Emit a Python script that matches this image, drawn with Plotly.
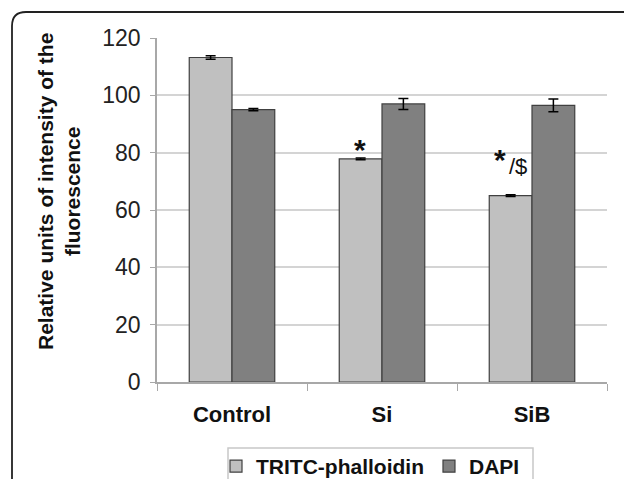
import plotly.graph_objects as go

categories = ["Control", "Si", "SiB"]
tritc = [113.2, 77.8, 65.0]
tritc_err = [0.6, 0.3, 0.3]
dapi = [95.0, 97.0, 96.5]
dapi_err = [0.4, 1.9, 2.2]
y_ticks = [0, 20, 40, 60, 80, 100, 120]

L, R, T, B = 157, 17, 38, 97
W, H = 624, 479
pw, ph = W - L - R, H - T - B

def px(x):
    return (x - L) / pw

def py(y):
    return (H - B - y) / ph

fig = go.Figure()
fig.add_trace(go.Bar(
    name="TRITC-phalloidin", x=categories, y=tritc,
    marker=dict(color="#c0c0c0", line=dict(color="#404040", width=1.2)),
    error_y=dict(type="data", array=tritc_err, color="#000000", thickness=1.5, width=5),
))
fig.add_trace(go.Bar(
    name="DAPI", x=categories, y=dapi,
    marker=dict(color="#808080", line=dict(color="#404040", width=1.2)),
    error_y=dict(type="data", array=dapi_err, color="#000000", thickness=1.5, width=5),
))

fig.update_layout(
    width=W, height=H,
    margin=dict(l=L, r=R, t=T, b=B, autoexpand=False),
    paper_bgcolor="white", plot_bgcolor="white",
    barmode="group", bargap=0.43, bargroupgap=0,
    font=dict(family="Liberation Sans, Arial", color="#111111"),
    showlegend=True,
    legend=dict(
        orientation="h", xref="container", yref="container",
        x=216 / W, y=1 - 446 / H, xanchor="left", yanchor="top",
        font=dict(size=21, family="Liberation Sans, Arial", color="#111111", weight="bold"),
        borderwidth=0, bgcolor="rgba(0,0,0,0)",
        itemwidth=30, tracegroupgap=0,
    ),
)
fig.update_yaxes(
    range=[0, 120], tickvals=y_ticks, showgrid=True, gridcolor="#d4d4d4", gridwidth=1.5,
    showline=True, linecolor="#a8a8a8", linewidth=1.5,
    ticks="outside", ticklen=5, tickcolor="#a8a8a8", ticklabelstandoff=5,
    tickfont=dict(size=23, color="#222222"), zeroline=False, automargin=False,
)
fig.update_xaxes(
    showline=True, linecolor="#a8a8a8", linewidth=1.5,
    ticks="outside", ticklen=7, tickcolor="#a8a8a8", tickson="boundaries",
    ticklabelstandoff=12,
    tickfont=dict(size=22, color="#111111", weight="bold"), automargin=False,
)

fig.add_annotation(
    text="Relative units of intensity of the<br>fluorescence",
    xref="paper", yref="paper", x=px(59), y=py(192), xanchor="center", yanchor="middle",
    textangle=-90, showarrow=False,
    font=dict(size=21, color="#111111", weight="bold"),
)
fig.add_annotation(text="*", x="Si", y=tritc[1], xshift=-22, yshift=-9, yanchor="bottom",
                   showarrow=False, font=dict(size=30, color="#111111", weight="bold"))
fig.add_annotation(text="*", x="SiB", y=tritc[2], xshift=-32, yshift=18, yanchor="bottom",
                   showarrow=False, font=dict(size=30, color="#111111", weight="bold"))
fig.add_annotation(text="/$", x="SiB", y=tritc[2], xshift=-14, yshift=15, yanchor="bottom",
                   showarrow=False, font=dict(size=22, color="#111111"))

# legend frame
fig.add_shape(
    type="rect", xref="paper", yref="paper",
    x0=px(228), x1=px(533), y0=py(448), y1=py(520),
    line=dict(color="#c8c8c8", width=1.5), fillcolor="rgba(0,0,0,0)",
)

rx, ry = 14 / pw, 14 / ph
x0, y0 = px(12), py(12)
x1, yb = px(660), py(520)
fig.add_shape(
    type="path", xref="paper", yref="paper",
    path=f"M {x0},{yb} L {x0},{y0 - ry} Q {x0},{y0} {x0 + rx},{y0} L {x1},{y0}",
    line=dict(color="#222222", width=1.8),
)

fig.write_html(
    "out.html",
    config={"displayModeBar": False},
    post_script="document.body.style.margin='0';document.body.style.overflow='hidden';",
)
